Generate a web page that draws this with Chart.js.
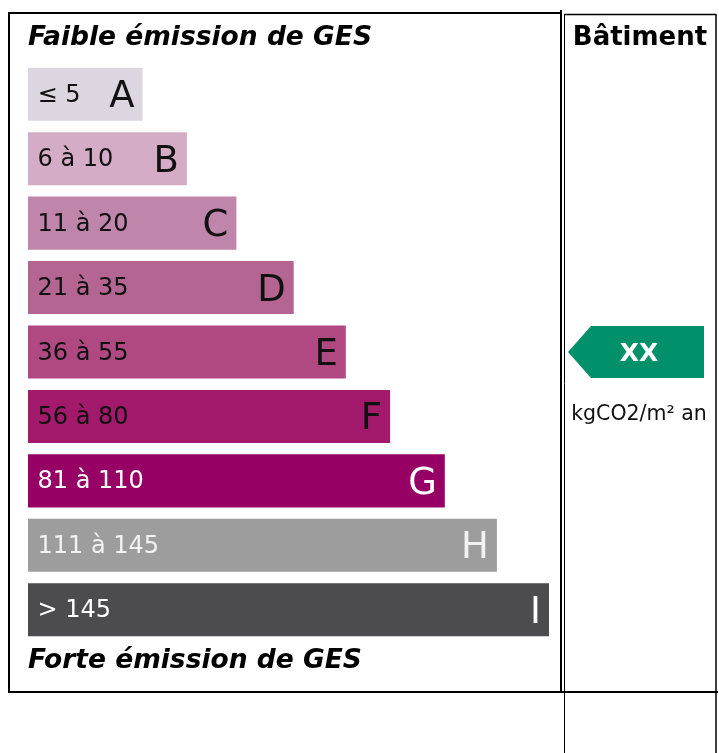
<!DOCTYPE html>
<html>
<head>
<meta charset="utf-8">
<script src="https://cdn.jsdelivr.net/npm/chart.js@4/dist/chart.umd.min.js"></script>
<style>
html,body{margin:0;padding:0;background:#fff;}
canvas{display:block;}
</style>
</head>
<body>
<canvas id="c" width="719" height="753"></canvas>
<script>
const categories = ['A','B','C','D','E','F','G','H','I'];
const rangeLabels = ['≤ 5','6 à 10','11 à 20','21 à 35','36 à 55','56 à 80','81 à 110','111 à 145','> 145'];
const barLengths = [22, 30.5, 40, 51, 61, 69.5, 80, 90, 100];
const barColors = ['#ddd5df','#d4acc6','#c085aa','#b46592','#b04982','#a3196b','#960064','#9d9d9e','#4c4b4d'];
const textColors = ['#111','#111','#111','#111','#111','#111','#ffffff','#f2f2f2','#ffffff'];
const topTitle = 'Faible émission de GES';
const bottomTitle = 'Forte émission de GES';
const columnTitle = 'Bâtiment';
const buildingValue = 'XX';
const unitLabel = 'kgCO2/m² an';

const FONT = '"DejaVu Sans", Verdana, sans-serif';

const decor = {
  id: 'decor',
  afterDatasetsDraw(chart) {
    const ctx = chart.ctx;
    const meta = chart.getDatasetMeta(0);
    ctx.save();
    meta.data.forEach((bar, i) => {
      const left = Math.min(bar.x, bar.base);
      const right = Math.max(bar.x, bar.base);
      ctx.fillStyle = textColors[i];
      ctx.textBaseline = 'alphabetic';
      ctx.font = '24px ' + FONT;
      ctx.textAlign = 'left';
      ctx.fillText(rangeLabels[i], left + 9.5, bar.y + 7.5);
      ctx.font = '37px ' + FONT;
      ctx.textAlign = 'right';
      ctx.fillText(categories[i], right - 8, bar.y + 13);
    });
    ctx.strokeStyle = '#000';
    ctx.lineWidth = 2;
    ctx.strokeRect(9, 13, 552, 679);
    ctx.beginPath();
    ctx.moveTo(561, 10); ctx.lineTo(561, 13);
    ctx.moveTo(8, 692); ctx.lineTo(718, 692);
    ctx.stroke();
    ctx.lineWidth = 1.5;
    ctx.beginPath();
    ctx.moveTo(564.5, 14.5); ctx.lineTo(716, 14.5);
    ctx.moveTo(716, 14); ctx.lineTo(716, 753);
    ctx.stroke();
    ctx.lineWidth = 1;
    ctx.beginPath();
    ctx.moveTo(564.5, 14); ctx.lineTo(564.5, 753);
    ctx.stroke();
    ctx.fillStyle = '#000';
    ctx.textBaseline = 'alphabetic';
    ctx.textAlign = 'left';
    ctx.font = 'italic bold 26.5px ' + FONT;
    ctx.fillText(topTitle, 28, 45);
    ctx.fillText(bottomTitle, 28, 668);
    ctx.textAlign = 'center';
    ctx.font = 'bold 26px ' + FONT;
    ctx.fillText(columnTitle, 640, 45);
    ctx.fillStyle = '#00906a';
    ctx.beginPath();
    ctx.moveTo(568, 352);
    ctx.lineTo(591, 326);
    ctx.lineTo(704, 326);
    ctx.lineTo(704, 378);
    ctx.lineTo(591, 378);
    ctx.closePath();
    ctx.fill();
    ctx.fillStyle = '#fff';
    ctx.font = 'bold 25px ' + FONT;
    ctx.fillText(buildingValue, 639, 361);
    ctx.fillStyle = '#111';
    ctx.font = '20.5px ' + FONT;
    ctx.fillText(unitLabel, 639, 420);
    ctx.restore();
  }
};

new Chart(document.getElementById('c'), {
  type: 'bar',
  data: {
    labels: categories,
    datasets: [{
      data: barLengths,
      backgroundColor: barColors,
      borderWidth: 0,
      categoryPercentage: 1,
      barPercentage: 0.823
    }]
  },
  options: {
    indexAxis: 'y',
    responsive: false,
    animation: false,
    layout: { padding: { left: 28, right: 170, top: 62, bottom: 111 } },
    plugins: { legend: { display: false }, tooltip: { enabled: false } },
    scales: {
      x: { display: false, min: 0, max: 100 },
      y: { display: false }
    }
  },
  plugins: [decor]
});
</script>
</body>
</html>
